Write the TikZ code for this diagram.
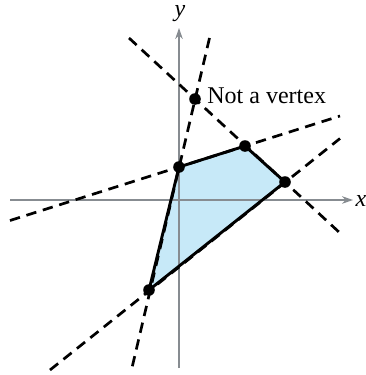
\documentclass[tikz,border=0pt]{standalone}
\usepackage{fontspec}
\setmainfont{Liberation Serif}
\usetikzlibrary{arrows.meta,calc}
\definecolor{regionblue}{RGB}{199,233,248}
\definecolor{axisgray}{RGB}{135,140,145}
\begin{document}
\begin{tikzpicture}[x=0.5pt,y=-0.5pt,
  axisline/.style={draw=axisgray,line width=0.6pt,-{Stealth[length=5.5pt,width=3.8pt]}},
  bound/.style={draw=black,line width=1.35pt,dash pattern=on 5.2pt off 3.4pt},
  edge/.style={draw=black,line width=1.45pt,line join=round},
  vtx/.style={circle,fill=black,inner sep=0pt,minimum size=5.8pt},
  lbl/.style={font=\fontsize{12}{14}\selectfont,inner sep=0pt}]
\useasboundingbox (0,0) rectangle (365,375);
% vertices
\coordinate (A) at (179,167);
\coordinate (B) at (245,146);
\coordinate (C) at (285,182);
\coordinate (D) at (149,290);
\coordinate (P) at (195,99);
% line ends
\coordinate (l1a) at (209.5,38);
\coordinate (l1b) at (131,372);
\coordinate (l2a) at (10,220.5);
\coordinate (l2b) at (340,116);
\coordinate (l3a) at (129,38);
\coordinate (l3b) at (340,233);
\coordinate (l4a) at (50,370);
\coordinate (l4b) at (340,138.5);
% region
\fill[regionblue] (A) -- (B) -- (C) -- (D) -- cycle;
% axes
\coordinate (xs) at (10,200);
\coordinate (xe) at (353,200);
\coordinate (ys) at (179,368);
\coordinate (ye) at (179,28);
\draw[axisline] (xs) -- (xe);
\draw[axisline] (ys) -- (ye);
\node[lbl,font=\fontsize{12}{14}\selectfont\itshape] (xl) at (361,201) {x};
\node[lbl,font=\fontsize{12}{14}\selectfont\itshape] (yl) at (180,14) {y};
% boundary lines
\draw[bound] (l1a) -- (l1b);
\draw[bound] (l2a) -- (l2b);
\draw[bound] (l3a) -- (l3b);
\draw[bound] (l4a) -- (l4b);
% polygon edges
\draw[edge] (A) -- (B) -- (C) -- (D) -- cycle;
% vertex dots
\node[vtx] (vA) at (A) {};
\node[vtx] (vB) at (B) {};
\node[vtx] (vC) at (C) {};
\node[vtx] (vD) at (D) {};
\node[vtx] (vP) at (P) {};
\node[lbl,anchor=west] (nv) at (207,96) {Not a vertex};
\end{tikzpicture}
\end{document}
